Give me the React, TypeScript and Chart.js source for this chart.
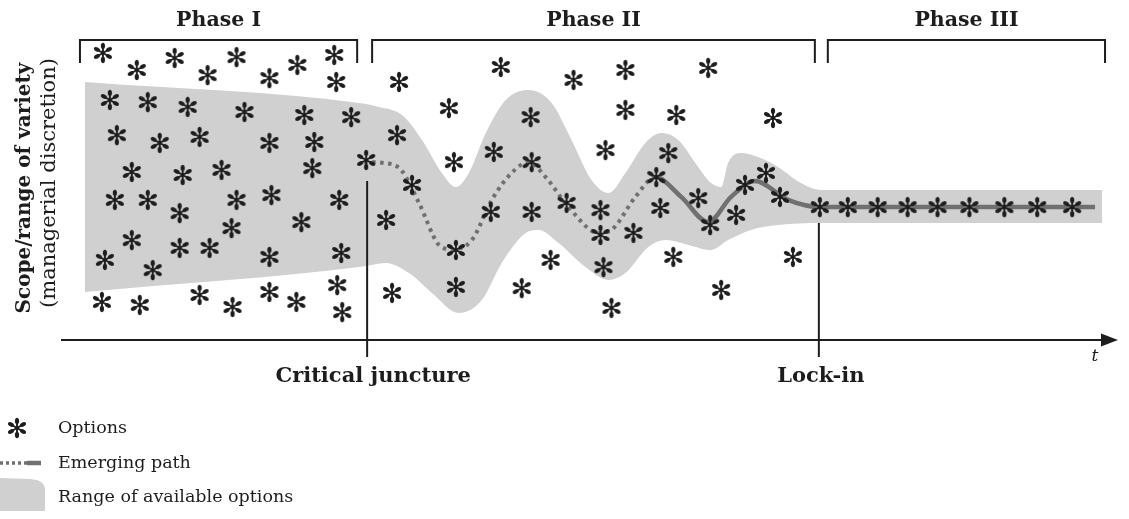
import React, { useEffect, useRef } from "react";
import { Chart, registerables } from "chart.js";

Chart.register(...registerables);

// ---------- data (time t on x, scope/range of variety on y) ----------
const X_MAX = 106;
const Y_MAX = 100;

const phaseLabels = ["Phase I", "Phase II", "Phase III"];
const phaseStartT = [1.9, 31.2, 76.9];
const phaseEndT = [29.7, 75.6, 104.7];

const criticalJunctureT = 30.7;
const lockInT = 76.0;
const markerLabels = ["Critical juncture", "Lock-in"];
const markerTopY = [53, 39];

const yTitleLines = ["Scope/range of variety", "(managerial discretion)"];
const xTitle = "t";
const legendLabels = ["Options", "Emerging path", "Range of available options"];

const phase1OptionsT = [4.2, 7.6, 11.4, 14.7, 17.6, 20.9, 23.7, 27.4, 27.6, 4.9, 8.7, 12.7, 18.4, 24.4, 29.1, 5.6, 9.9, 13.9, 20.9, 25.4, 7.1, 12.2, 16.1, 25.2, 5.4, 8.7, 11.9, 17.6, 21.1, 27.9, 17.1, 24.1, 7.1, 4.4, 11.9, 14.9, 20.9, 28.1, 9.2, 27.7, 4.1, 7.9, 13.9, 17.2, 20.9, 23.6, 28.2];
const phase1OptionsY = [95.7, 90.0, 94.0, 88.3, 94.3, 87.3, 91.7, 95.0, 86.0, 80.0, 79.3, 77.7, 76.0, 75.0, 74.3, 68.3, 65.7, 67.7, 65.7, 66.0, 56.0, 55.0, 56.7, 57.3, 46.7, 46.7, 42.3, 46.7, 48.3, 46.7, 37.3, 39.3, 33.3, 26.7, 30.7, 30.7, 27.7, 29.0, 23.3, 18.3, 12.7, 11.7, 15.0, 11.0, 16.0, 12.7, 9.3];

const phase2OptionsT = [30.6, 33.9, 38.9, 44.1, 51.4, 56.6, 64.9, 47.1, 56.6, 61.7, 71.4, 33.7, 39.4, 43.4, 47.2, 54.6, 60.9, 35.2, 59.7, 70.7, 68.6, 72.1, 32.6, 43.1, 47.2, 50.7, 54.1, 60.1, 63.9, 67.7, 39.6, 54.1, 57.4, 65.1, 49.1, 54.4, 61.4, 73.4, 33.2, 39.6, 46.2, 55.2, 66.2];
const phase2OptionsY = [60.0, 86.0, 77.3, 91.0, 86.7, 90.0, 90.7, 74.3, 76.7, 75.0, 74.0, 68.3, 59.3, 62.7, 59.3, 63.3, 62.3, 51.7, 54.3, 55.7, 51.7, 47.7, 40.0, 42.7, 42.7, 45.7, 43.3, 44.0, 47.3, 41.7, 30.0, 35.0, 35.7, 38.3, 26.7, 24.3, 27.7, 27.7, 15.7, 17.7, 17.3, 10.7, 16.7];

const phase3OptionsT = [76.1, 78.9, 81.9, 84.9, 87.9, 91.1, 94.6, 97.9, 101.4];
const phase3OptionsY = [44.3, 44.3, 44.3, 44.3, 44.3, 44.3, 44.3, 44.3, 44.3];

const bandUpperT = [2.4, 29.9, 31.9, 34.2, 36.2, 38.2, 39.6, 40.9, 42.6, 44.6, 46.9, 49.2, 51.2, 53.2, 54.9, 56.6, 58.6, 60.2, 61.9, 63.9, 65.2, 66.2, 66.9, 68.2, 69.9, 71.9, 74.2, 76.2, 104.4];
const bandUpperY = [86.0, 79.0, 77.7, 75.0, 66.7, 55.7, 51.0, 55.7, 69.0, 80.0, 83.3, 79.0, 66.7, 53.3, 49.0, 55.7, 65.7, 69.0, 66.7, 57.7, 52.3, 51.0, 59.0, 62.3, 61.0, 57.7, 52.3, 50.0, 50.0];
const bandLowerT = [2.4, 29.9, 32.6, 34.9, 37.2, 39.9, 42.2, 44.2, 46.6, 47.9, 49.9, 52.6, 54.9, 56.6, 58.9, 60.6, 62.9, 65.2, 66.9, 69.2, 71.9, 76.2, 104.4];
const bandLowerY = [16.0, 24.3, 25.7, 22.3, 15.7, 9.0, 13.3, 25.7, 35.7, 36.7, 32.3, 24.3, 20.0, 22.3, 31.0, 33.3, 31.7, 30.0, 33.3, 36.7, 38.3, 39.0, 39.0];

const pathT = [30.4, 32.4, 34.1, 35.9, 37.9, 39.1, 41.2, 43.2, 45.2, 46.9, 48.6, 50.9, 53.9, 55.2, 57.6, 59.6, 62.2, 64.9, 67.2, 69.6, 72.9, 76.2, 103.7];
const pathY = [59.3, 59.0, 56.7, 45.7, 31.7, 30.3, 33.3, 46.7, 55.7, 59.3, 54.3, 44.3, 35.7, 36.7, 47.7, 54.3, 47.7, 39.3, 47.7, 53.0, 46.7, 44.3, 44.3];
const pathSolidFromT = 59.6;

// ---------- styles ----------
const INK = "#1d1d1d";
const BAND = "#d0d0d0";
const PATH = "#707070";
const SERIF = '"DejaVu Serif", serif';

const zip = (xs: number[], ys: number[]) => xs.map((x, i) => ({ x, y: ys[i] }));

function makeAsterisk(color: string): HTMLCanvasElement {
  const size = 24;
  const c = document.createElement("canvas");
  c.width = size;
  c.height = size;
  const ctx = c.getContext("2d")!;
  const cx = size / 2;
  const cy = size / 2;
  ctx.strokeStyle = color;
  ctx.fillStyle = color;
  ctx.lineWidth = 1.9;
  ctx.lineCap = "round";
  for (let k = 0; k < 6; k++) {
    const a = -Math.PI / 2 + (k * Math.PI) / 3;
    ctx.beginPath();
    ctx.moveTo(cx, cy);
    ctx.lineTo(cx + Math.cos(a) * 9.2, cy + Math.sin(a) * 9.2);
    ctx.stroke();
    ctx.beginPath();
    ctx.ellipse(cx + Math.cos(a) * 6.9, cy + Math.sin(a) * 6.9, 3.1, 2.1, a, 0, Math.PI * 2);
    ctx.fill();
  }
  return c;
}

export default function App() {
  const ref = useRef<HTMLCanvasElement | null>(null);

  useEffect(() => {
    if (!ref.current) return;
    const star = makeAsterisk(INK);

    const annot = {
      id: "annot",
      afterDatasetsDraw(chart: any) {
        const { ctx, scales } = chart;
        const xs = scales.x;
        const ys = scales.y;
        const px = (v: number) => xs.getPixelForValue(v);
        const py = (v: number) => ys.getPixelForValue(v);
        ctx.save();
        ctx.strokeStyle = INK;
        ctx.fillStyle = INK;
        ctx.lineWidth = 2;
        ctx.lineCap = "butt";

        // time axis with arrow
        const y0 = py(0);
        const tip = px(X_MAX);
        ctx.beginPath();
        ctx.moveTo(px(0), y0);
        ctx.lineTo(tip - 12, y0);
        ctx.stroke();
        ctx.beginPath();
        ctx.moveTo(tip, y0);
        ctx.lineTo(tip - 17, y0 - 6.5);
        ctx.lineTo(tip - 17, y0 + 6.5);
        ctx.closePath();
        ctx.fill();

        // critical juncture & lock-in verticals
        [criticalJunctureT, lockInT].forEach((t, i) => {
          ctx.beginPath();
          ctx.moveTo(px(t), y0 + 17);
          ctx.lineTo(px(t), py(markerTopY[i]));
          ctx.stroke();
        });

        // phase brackets
        for (let i = 0; i < phaseLabels.length; i++) {
          const a = px(phaseStartT[i]);
          const b = px(phaseEndT[i]);
          const top = py(Y_MAX);
          const bot = py(92.3);
          ctx.beginPath();
          ctx.moveTo(a, bot);
          ctx.lineTo(a, top);
          ctx.lineTo(b, top);
          ctx.lineTo(b, bot);
          ctx.stroke();
          ctx.font = `bold 20.5px ${SERIF}`;
          ctx.textAlign = "center";
          ctx.textBaseline = "middle";
          ctx.fillText(phaseLabels[i], (a + b) / 2, top - 19);
        }

        // marker labels
        ctx.font = `bold 21px ${SERIF}`;
        ctx.textAlign = "center";
        ctx.textBaseline = "middle";
        ctx.fillText(markerLabels[0], px(criticalJunctureT) + 6, y0 + 37);
        ctx.fillText(markerLabels[1], px(lockInT) + 2, y0 + 37);

        // t label
        ctx.font = `italic 17px ${SERIF}`;
        ctx.fillText(xTitle, tip - 23, y0 + 17);

        // y title
        ctx.save();
        ctx.translate(25, 188);
        ctx.rotate(-Math.PI / 2);
        ctx.font = `bold 20px ${SERIF}`;
        ctx.fillText(yTitleLines[0], 0, 0);
        ctx.restore();
        ctx.save();
        ctx.translate(50, 183);
        ctx.rotate(-Math.PI / 2);
        ctx.font = `21px ${SERIF}`;
        ctx.fillText(yTitleLines[1], 0, 0);
        ctx.restore();

        // legend
        const lx = 58;
        const rows = [428, 463, 497];
        ctx.drawImage(star, 17 - star.width / 2, rows[0] - star.height / 2);
        ctx.save();
        ctx.strokeStyle = PATH;
        ctx.lineWidth = 3.5;
        ctx.setLineDash([3, 3]);
        ctx.beginPath();
        ctx.moveTo(0, rows[1]);
        ctx.lineTo(27, rows[1]);
        ctx.stroke();
        ctx.setLineDash([]);
        ctx.lineWidth = 4.5;
        ctx.beginPath();
        ctx.moveTo(27, rows[1]);
        ctx.lineTo(41, rows[1]);
        ctx.stroke();
        ctx.fillStyle = BAND;
        ctx.beginPath();
        ctx.moveTo(0, 478);
        ctx.lineTo(30, 479);
        ctx.quadraticCurveTo(45, 480, 45, 490);
        ctx.lineTo(45, 511);
        ctx.lineTo(0, 511);
        ctx.closePath();
        ctx.fill();
        ctx.restore();

        ctx.font = `17.5px ${SERIF}`;
        ctx.textAlign = "left";
        ctx.textBaseline = "middle";
        legendLabels.forEach((s, i) => ctx.fillText(s, lx, rows[i]));
        ctx.restore();
      },
    };

    const common = { showLine: false, pointStyle: star, pointRadius: 10, pointHoverRadius: 10, order: 0, clip: false };

    const chart = new Chart(ref.current, {
      type: "line",
      data: {
        datasets: [
          {
            label: "band-upper",
            data: zip(bandUpperT, bandUpperY),
            showLine: true,
            borderWidth: 0,
            borderColor: "rgba(0,0,0,0)",
            pointRadius: 0,
            fill: false,
            cubicInterpolationMode: "monotone",
            order: 3,
          },
          {
            label: legendLabels[2],
            data: zip(bandLowerT, bandLowerY),
            showLine: true,
            borderWidth: 0,
            borderColor: "rgba(0,0,0,0)",
            backgroundColor: BAND,
            pointRadius: 0,
            fill: "-1",
            cubicInterpolationMode: "monotone",
            order: 3,
          },
          {
            label: legendLabels[1],
            data: zip(pathT, pathY),
            showLine: true,
            borderColor: PATH,
            borderWidth: 4.5,
            borderCapStyle: "butt",
            pointRadius: 0,
            fill: false,
            cubicInterpolationMode: "monotone",
            segment: {
              borderDash: (c: any) => (c.p0.parsed.x < pathSolidFromT - 0.01 ? [3.5, 4.5] : []),
              borderWidth: (c: any) => (c.p0.parsed.x < pathSolidFromT - 0.01 ? 4 : 4.5),
            },
            order: 1,
          },
          { label: legendLabels[0], data: zip(phase1OptionsT, phase1OptionsY), ...common },
          { label: legendLabels[0], data: zip(phase2OptionsT, phase2OptionsY), ...common },
          { label: legendLabels[0], data: zip(phase3OptionsT, phase3OptionsY), ...common },
        ] as any,
      },
      options: {
        animation: false,
        responsive: true,
        maintainAspectRatio: false,
        events: [],
        layout: { padding: { left: 61, right: 8, top: 40, bottom: 179 } },
        scales: {
          x: { type: "linear", min: 0, max: X_MAX, display: false },
          y: { type: "linear", min: 0, max: Y_MAX, display: false },
        },
        plugins: {
          legend: { display: false },
          tooltip: { enabled: false },
        },
      } as any,
      plugins: [annot],
    });
    return () => chart.destroy();
  }, []);

  return (
    <div style={{ position: "fixed", left: 0, top: 0, width: 1129, height: 519, background: "#ffffff" }}>
      <canvas ref={ref} />
    </div>
  );
}
